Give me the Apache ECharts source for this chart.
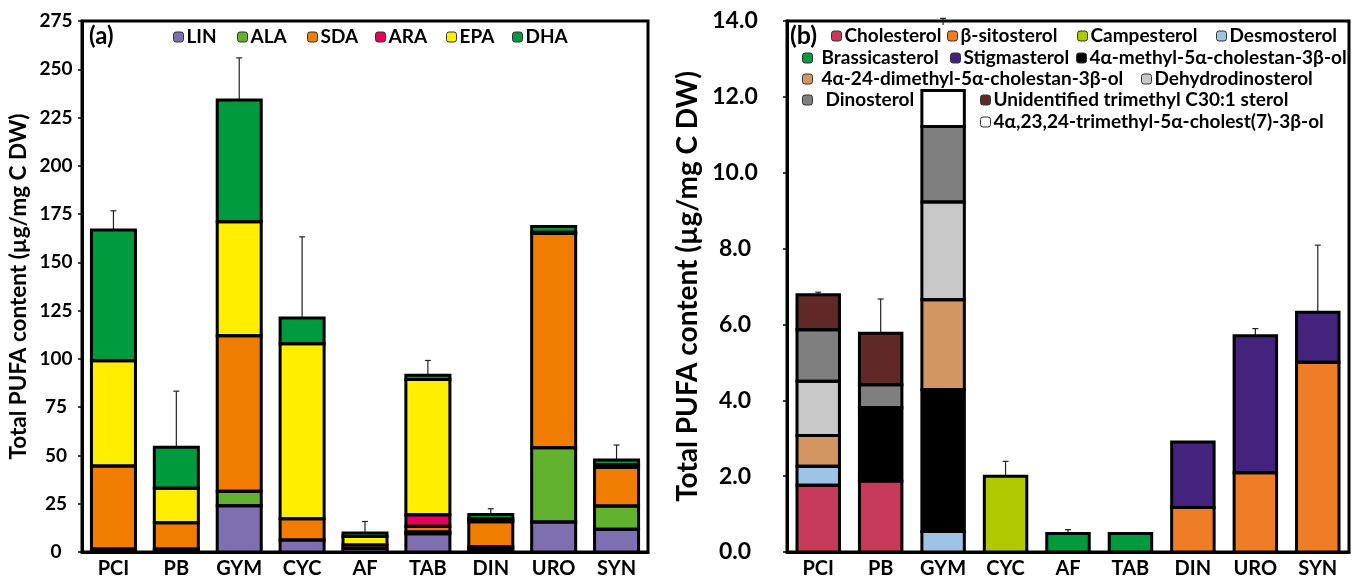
<!DOCTYPE html>
<html>
<head>
<meta charset="utf-8">
<script src="https://cdn.jsdelivr.net/npm/echarts@6/dist/echarts.min.js"></script>
<style>
html,body{margin:0;padding:0;background:#fff;}
#c{width:1354px;height:579px;}
</style>
</head>
<body>
<div id="c"></div>
<script>
// ---------- DATA ----------
const categories = ['PCI','PB','GYM','CYC','AF','TAB','DIN','URO','SYN'];

// Panel (a): PUFA (µg/mg C DW)
const pufaNames = ['LIN','ALA','SDA','ARA','EPA','DHA'];
const LIN = [1.5, 1.5, 24.0, 6.2, 1.8, 9.5, 1.5, 15.5, 11.8];
const ALA = [0, 0, 7.4, 0, 0, 0.8, 1.2, 38.5, 12.0];
const SDA = [43.0, 13.6, 80.6, 11.0, 1.8, 3.0, 13.0, 111.0, 20.0];
const ARA = [0, 0, 0, 0, 0, 6.0, 0.5, 0, 0];
const EPA = [54.6, 17.9, 59.0, 90.6, 4.4, 70.0, 1.2, 0.6, 1.5];
const DHA = [67.6, 21.3, 63.1, 13.4, 1.8, 2.2, 2.0, 3.0, 2.3];
const pufaErr = [10.0, 29.0, 21.8, 42.0, 6.0, 7.7, 3.0, 0, 7.8];
const pufaTicks = {min: 0, max: 275, interval: 25};

// Panel (b): sterols
const sterolNames = ['Cholesterol','β-sitosterol','Campesterol','Desmosterol','Brassicasterol','Stigmasterol',
  '4α-methyl-5α-cholestan-3β-ol','4α-24-dimethyl-5α-cholestan-3β-ol','Dehydrodinosterol','Dinosterol',
  'Unidentified trimethyl C30:1 sterol','4α,23,24-trimethyl-5α-cholest(7)-3β-ol'];
const Cholesterol        = [1.76, 1.87, 0, 0, 0, 0, 0, 0, 0];
const bSitosterol        = [0, 0, 0, 0, 0, 0, 1.17, 2.09, 5.00];
const Campesterol        = [0, 0, 0, 2.00, 0, 0, 0, 0, 0];
const Desmosterol        = [0.50, 0, 0.54, 0, 0, 0, 0, 0, 0];
const Brassicasterol     = [0, 0, 0, 0, 0.49, 0.49, 0, 0, 0];
const Stigmasterol       = [0, 0, 0, 0, 0, 0, 1.73, 3.61, 1.32];
const methylCholestanol  = [0, 1.93, 3.74, 0, 0, 0, 0, 0, 0];
const dimethylCholestanol= [0.81, 0, 2.37, 0, 0, 0, 0, 0, 0];
const Dehydrodinosterol  = [1.43, 0, 2.58, 0, 0, 0, 0, 0, 0];
const Dinosterol         = [1.36, 0.61, 1.99, 0, 0, 0, 0, 0, 0];
const unidentifiedC30    = [0.92, 1.36, 0, 0, 0, 0, 0, 0, 0];
const trimethylCholestenol=[0, 0, 0.95, 0, 0, 0, 0, 0, 0];
const sterolErr = [0.07, 0.90, 1.90, 0.39, 0.10, 0, 0, 0.19, 1.77];
const sterolTicks = {min: 0, max: 14, interval: 2};

const yTitle = 'Total PUFA content (µg/mg C DW)';

// ---------- STYLE ----------
const FONT = 'Lato, "Open Sans", sans-serif';
const pufaColors = ['#7e6fb0','#63b22f','#f07d00','#e6005a','#ffee00','#009a3e'];
const sterolColors = ['#c63b5a','#ef7d26','#b0c800','#9dc3e6','#009a3e','#44237f',
  '#000000','#d39562','#c8c8c8','#7f7f7f','#612828','#ffffff'];
const BAR_A = 0.70, BAR_B = 0.68, OUTLINE = 3;

const pufaSeriesData = [LIN, ALA, SDA, ARA, EPA, DHA];
const sterolSeriesData = [Cholesterol,bSitosterol,Campesterol,Desmosterol,Brassicasterol,Stigmasterol,
  methylCholestanol,dimethylCholestanol,Dehydrodinosterol,Dinosterol,unidentifiedC30,trimethylCholestenol];

function nz(arr){ return arr.map(v => v > 0 ? v : '-'); }
function totals(list){ return categories.map((_, i) => list.reduce((s, a) => s + a[i], 0)); }
// cumulative stack boundaries per category (only non-zero segments)
function bounds(list){
  return categories.map((_, i) => {
    const row = [i]; let s = 0; row.push(0);
    list.forEach(a => { if (a[i] > 0) { s += a[i]; row.push(s); } });
    return row;
  });
}
const pufaTot = totals(pufaSeriesData);
const sterolTot = totals(sterolSeriesData);

const series = [];
pufaNames.forEach((n, k) => series.push({
  name: n, type: 'bar', stack: 'a', xAxisIndex: 0, yAxisIndex: 0, barWidth: (BAR_A*100) + '%',
  data: nz(pufaSeriesData[k]),
  itemStyle: {color: pufaColors[k], borderWidth: 0},
  emphasis: {disabled: true}
}));
sterolNames.forEach((n, k) => series.push({
  name: n, type: 'bar', stack: 'b', xAxisIndex: 1, yAxisIndex: 1, barWidth: (BAR_B*100) + '%',
  data: nz(sterolSeriesData[k]),
  itemStyle: {color: sterolColors[k], borderWidth: 0},
  emphasis: {disabled: true}
}));

// black outlines of every stacked segment (centred strokes so shared edges merge)
function outlineRender(frac){
  return function(params, api){
    const i = api.value(0);
    const bw = api.size([1, 0])[0] * frac;
    const children = [];
    let k = 1;
    while (true) {
      const lo = api.value(k), hi = api.value(k + 1);
      if (hi === undefined || isNaN(hi)) break;
      const p0 = api.coord([i, lo]), p1 = api.coord([i, hi]);
      children.push({type: 'rect', shape: {x: p0[0] - bw/2, y: p1[1], width: bw, height: p0[1] - p1[1]},
        style: {fill: 'none', stroke: '#000', lineWidth: OUTLINE}});
      k++;
    }
    return {type: 'group', children: children};
  };
}
function padRows(rows){
  const n = Math.max.apply(null, rows.map(r => r.length));
  return rows.map(r => { const c = r.slice(); while (c.length < n) c.push(NaN); return c; });
}
series.push({type: 'custom', xAxisIndex: 0, yAxisIndex: 0, z: 3, silent: true,
  renderItem: outlineRender(BAR_A), encode: {x: 0, y: 1}, data: padRows(bounds(pufaSeriesData))});
series.push({type: 'custom', xAxisIndex: 1, yAxisIndex: 1, z: 3, silent: true,
  renderItem: outlineRender(BAR_B), encode: {x: 0, y: 1}, data: padRows(bounds(sterolSeriesData))});

function errRender(params, api){
  const x = api.value(0), lo = api.value(1), hi = api.value(2);
  if (!(hi > lo)) return null;
  const p0 = api.coord([x, lo]), p1 = api.coord([x, hi]);
  return {type: 'group', children: [
    {type: 'line', shape: {x1: p0[0], y1: p0[1], x2: p1[0], y2: p1[1]}, style: {stroke: '#222', lineWidth: 1.2}},
    {type: 'line', shape: {x1: p1[0]-3, y1: p1[1], x2: p1[0]+3, y2: p1[1]}, style: {stroke: '#222', lineWidth: 1.2}}
  ]};
}
series.push({type: 'custom', xAxisIndex: 0, yAxisIndex: 0, renderItem: errRender, z: 1, silent: true,
  encode: {x: 0, y: [1, 2]},
  data: categories.map((c, i) => [i, pufaTot[i], pufaTot[i] + pufaErr[i]])});
series.push({type: 'custom', xAxisIndex: 1, yAxisIndex: 1, renderItem: errRender, z: 1, silent: true,
  encode: {x: 0, y: [1, 2]},
  data: categories.map((c, i) => [i, sterolTot[i], sterolTot[i] + sterolErr[i]])});

// legends: one per item for exact placement  [x, rowCenterY, extraTextGap, rightPad, lineHeight]
const pufaLegendPos = [[173,37],[237,37],[307,37],[375,37],[446,37],[512,37]];
const sterolLegendPos = [[831,36,0,18,22],[947,36,0,0,22],[1077,36,0,0,22],[1216,36,0,0,22],
  [802,58,6,12,22],[950,58,0,0,22],[1076,58,0,0,22],
  [802,79,6,0,20],[1141,79,0,0,20],
  [802,100,10,0,20],[980,100,0,0,20],
  [980,122,0,0,20]];
const legends = [];
pufaNames.forEach((n, k) => legends.push({
  data: [n], left: pufaLegendPos[k][0], top: pufaLegendPos[k][1] - 11, padding: 0,
  itemWidth: 10, itemHeight: 10, selectedMode: false,
  itemStyle: {borderColor: '#333', borderWidth: 1},
  textStyle: {fontFamily: FONT, fontWeight: 'bold', fontSize: 19, color: '#000', lineHeight: 22, padding: [0,0,0,-2]}
}));
sterolNames.forEach((n, k) => {
  const p = sterolLegendPos[k];
  legends.push({
    data: [n], left: p[0], top: p[1] - p[4] / 2, padding: [0, p[3], 0, 0],
    backgroundColor: '#fff',
    itemWidth: 10, itemHeight: 10, selectedMode: false,
    itemStyle: {borderColor: '#333', borderWidth: 1},
    textStyle: {fontFamily: FONT, fontWeight: 'bold', fontSize: 19, color: '#000', lineHeight: p[4],
      padding: [0,0,0,p[2] - 2]}
  });
});

const axisLabelStyle = {fontFamily: FONT, fontWeight: 'bold', color: '#000'};

const option = {
  animation: false,
  backgroundColor: '#fff',
  grid: [
    {left: 82, right: 706, top: 21, bottom: 25, show: true, borderColor: '#000', borderWidth: 3, backgroundColor: 'transparent'},
    {left: 787, right: 5, top: 21, bottom: 26, show: true, borderColor: '#000', borderWidth: 3, backgroundColor: 'transparent'}
  ],
  xAxis: [0, 1].map(g => ({
    type: 'category', gridIndex: g, data: categories,
    axisLine: {lineStyle: {color: '#000', width: 3}},
    axisTick: {show: false},
    axisLabel: Object.assign({fontSize: 20, margin: 7}, axisLabelStyle)
  })),
  yAxis: [
    {type: 'value', gridIndex: 0, min: pufaTicks.min, max: pufaTicks.max, interval: pufaTicks.interval,
     name: yTitle, nameLocation: 'middle', nameGap: 52,
     nameTextStyle: {fontFamily: FONT, fontWeight: 'bold', fontSize: 22.5, color: '#000'},
     axisLine: {show: true, lineStyle: {color: '#000', width: 3}},
     axisTick: {show: true, length: 4, lineStyle: {color: '#000', width: 1.5}},
     splitLine: {show: false},
     axisLabel: Object.assign({fontSize: 19, margin: 26, align: 'center'}, axisLabelStyle)},
    {type: 'value', gridIndex: 1, min: sterolTicks.min, max: sterolTicks.max, interval: sterolTicks.interval,
     name: yTitle, nameLocation: 'middle', nameGap: 85,
     nameTextStyle: {fontFamily: FONT, fontWeight: 'bold', fontSize: 28, color: '#000'},
     axisLine: {show: true, lineStyle: {color: '#000', width: 3}},
     axisTick: {show: true, length: 4, lineStyle: {color: '#000', width: 1.5}},
     splitLine: {show: false},
     axisLabel: Object.assign({fontSize: 23, margin: 52, align: 'center', formatter: v => v.toFixed(1)}, axisLabelStyle)}
  ],
  legend: legends,
  graphic: [
    {type: 'text', left: 89, top: 24, style: {text: '(a)', font: 'bold 24px ' + FONT, fill: '#000'}},
    {type: 'text', left: 790, top: 23, z: 10, style: {text: '(b)', font: 'bold 25px ' + FONT, fill: '#000'}}
  ],
  series: series
};

const chart = echarts.init(document.getElementById('c'), null, {renderer: 'canvas'});
chart.setOption(option);
</script>
</body>
</html>
